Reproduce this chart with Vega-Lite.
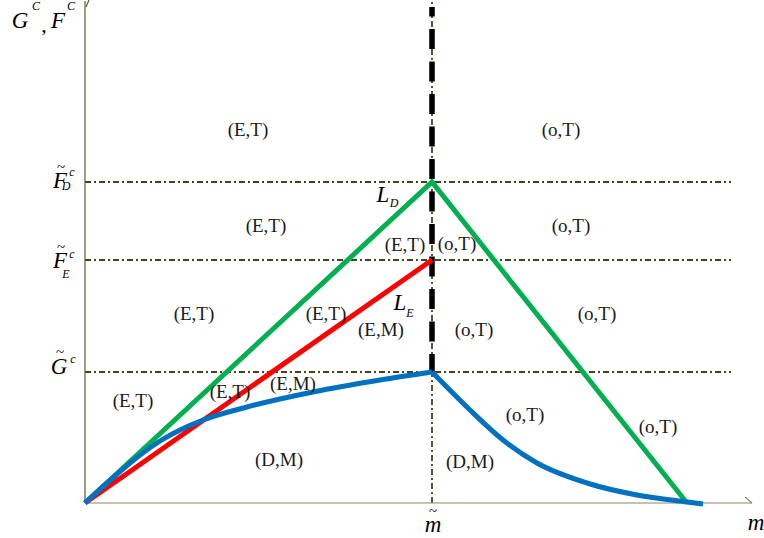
{
  "$schema": "https://vega.github.io/schema/vega-lite/v6.json",
  "width": 764,
  "height": 538,
  "padding": 0,
  "autosize": "none",
  "background": "white",
  "config": {"view": {"stroke": null}},
  "encoding": {
    "x": {"field": "x", "type": "quantitative", "scale": {"domain": [-85, 679], "nice": false, "zero": false}, "axis": null},
    "y": {"field": "y", "type": "quantitative", "scale": {"domain": [-35, 503], "nice": false, "zero": false}, "axis": null}
  },
  "layer": [
    {
      "data": {"values": [
        {"x": 0, "x2": 646, "y": 321, "y2": 321},
        {"x": 0, "x2": 646, "y": 243, "y2": 243},
        {"x": 0, "x2": 646, "y": 131, "y2": 131},
        {"x": 347, "x2": 347, "y": 0, "y2": 503}
      ]},
      "mark": {"type": "rule", "color": "#44441a", "strokeWidth": 1.8, "strokeDash": [6, 3, 2, 3]},
      "encoding": {"x2": {"field": "x2"}, "y2": {"field": "y2"}}
    },
    {
      "data": {"values": [
        {"x": 0, "x2": 0, "y": 0, "y2": 502},
        {"x": 1, "x2": 4, "y": 496, "y2": 503}
      ]},
      "mark": {"type": "rule", "color": "#5c5c2e", "strokeWidth": 1.2},
      "encoding": {"x2": {"field": "x2"}, "y2": {"field": "y2"}}
    },
    {
      "data": {"values": [
        {"x": 0, "x2": 667, "y": 0, "y2": 0},
        {"x": 660, "x2": 667, "y": 6, "y2": 0}
      ]},
      "mark": {"type": "rule", "color": "#8a8a6a", "strokeWidth": 1.2},
      "encoding": {"x2": {"field": "x2"}, "y2": {"field": "y2"}}
    },
    {
      "data": {"values": [{"x": 347, "x2": 347, "y": 496, "y2": 131}]},
      "mark": {"type": "rule", "color": "#000000", "strokeWidth": 5.5, "strokeDash": [20, 12.5], "strokeDashOffset": 10.5},
      "encoding": {"x2": {"field": "x2"}, "y2": {"field": "y2"}}
    },
    {
      "data": {"values": [
        {"series": "LD", "x": 0, "y": 0},
        {"series": "LD", "x": 347, "y": 321},
        {"series": "LD", "x": 602, "y": 0},
        {"series": "LE", "x": 0, "y": 0},
        {"series": "LE", "x": 347, "y": 243}
      ]},
      "mark": {"type": "line", "strokeWidth": 5, "strokeCap": "butt"},
      "encoding": {
        "color": {"field": "series", "type": "nominal", "scale": {"domain": ["LD", "LE"], "range": ["#00b050", "#ff0000"]}, "legend": null}
      }
    },
    {
      "data": {"values": [
        {"part": "left", "x": 0, "y": 0},
        {"part": "left", "x": 30, "y": 27},
        {"part": "left", "x": 55, "y": 48},
        {"part": "left", "x": 75, "y": 62},
        {"part": "left", "x": 95, "y": 73},
        {"part": "left", "x": 118, "y": 83},
        {"part": "left", "x": 162, "y": 96},
        {"part": "left", "x": 228, "y": 111},
        {"part": "left", "x": 295, "y": 123},
        {"part": "left", "x": 347, "y": 131},
        {"part": "right", "x": 347, "y": 131},
        {"part": "right", "x": 385, "y": 93},
        {"part": "right", "x": 418, "y": 63},
        {"part": "right", "x": 452, "y": 40},
        {"part": "right", "x": 502, "y": 20},
        {"part": "right", "x": 552, "y": 8},
        {"part": "right", "x": 602, "y": 1},
        {"part": "right", "x": 618, "y": -1}
      ]},
      "mark": {"type": "line", "strokeWidth": 5, "color": "#0070c0", "interpolate": "monotone", "strokeCap": "butt"},
      "encoding": {"detail": {"field": "part", "type": "nominal"}}
    },
    {
      "data": {"values": [
        {"label": "(E,T)", "x": 163, "y": 373},
        {"label": "(o,T)", "x": 476, "y": 373},
        {"label": "(E,T)", "x": 181, "y": 277},
        {"label": "(o,T)", "x": 486, "y": 277},
        {"label": "(E,T)", "x": 320, "y": 258},
        {"label": "(o,T)", "x": 372, "y": 259},
        {"label": "(E,T)", "x": 109, "y": 189},
        {"label": "(E,T)", "x": 241, "y": 189},
        {"label": "(E,M)", "x": 296, "y": 173},
        {"label": "(o,T)", "x": 389, "y": 173},
        {"label": "(o,T)", "x": 512, "y": 189},
        {"label": "(E,T)", "x": 48, "y": 102},
        {"label": "(E,T)", "x": 145, "y": 111},
        {"label": "(E,M)", "x": 208, "y": 119},
        {"label": "(D,M)", "x": 194, "y": 43},
        {"label": "(D,M)", "x": 385, "y": 41},
        {"label": "(o,T)", "x": 440, "y": 88},
        {"label": "(o,T)", "x": 573, "y": 76}
      ]},
      "mark": {"type": "text", "font": "Liberation Serif", "fontSize": 19, "color": "#1a1a1a", "align": "center", "baseline": "middle"},
      "encoding": {"text": {"field": "label"}}
    },
    {
      "data": {"values": [
        {"label": "G", "x": -65, "y": 482},
        {"label": "F", "x": -27, "y": 482},
        {"label": "F", "x": -25, "y": 322},
        {"label": "F", "x": -25, "y": 242},
        {"label": "G", "x": -26, "y": 136},
        {"label": "L", "x": 298, "y": 308},
        {"label": "L", "x": 315, "y": 200},
        {"label": "m", "x": 671, "y": -20},
        {"label": "m", "x": 348, "y": -22}
      ]},
      "mark": {"type": "text", "font": "Liberation Serif", "fontStyle": "italic", "fontSize": 23, "color": "#000000", "align": "center", "baseline": "middle"},
      "encoding": {"text": {"field": "label"}}
    },
    {
      "data": {"values": [{"label": ",", "x": -41, "y": 478}]},
      "mark": {"type": "text", "font": "Liberation Serif", "fontSize": 22, "color": "#000000", "align": "center", "baseline": "middle"},
      "encoding": {"text": {"field": "label"}}
    },
    {
      "data": {"values": [
        {"label": "C", "x": -49, "y": 497},
        {"label": "C", "x": -14, "y": 497},
        {"label": "c", "x": -13, "y": 331},
        {"label": "D", "x": -19, "y": 317},
        {"label": "c", "x": -13, "y": 249},
        {"label": "E", "x": -19, "y": 229},
        {"label": "c", "x": -12, "y": 144},
        {"label": "D", "x": 309, "y": 300},
        {"label": "E", "x": 325, "y": 190}
      ]},
      "mark": {"type": "text", "font": "Liberation Serif", "fontStyle": "italic", "fontSize": 12, "color": "#000000", "align": "center", "baseline": "middle"},
      "encoding": {"text": {"field": "label"}}
    },
    {
      "data": {"values": [
        {"label": "~", "x": -24, "y": 336},
        {"label": "~", "x": -24, "y": 256},
        {"label": "~", "x": -25, "y": 151},
        {"label": "~", "x": 348, "y": -8}
      ]},
      "mark": {"type": "text", "font": "Liberation Serif", "fontSize": 15, "color": "#000000", "align": "center", "baseline": "middle"},
      "encoding": {"text": {"field": "label"}}
    }
  ]
}
